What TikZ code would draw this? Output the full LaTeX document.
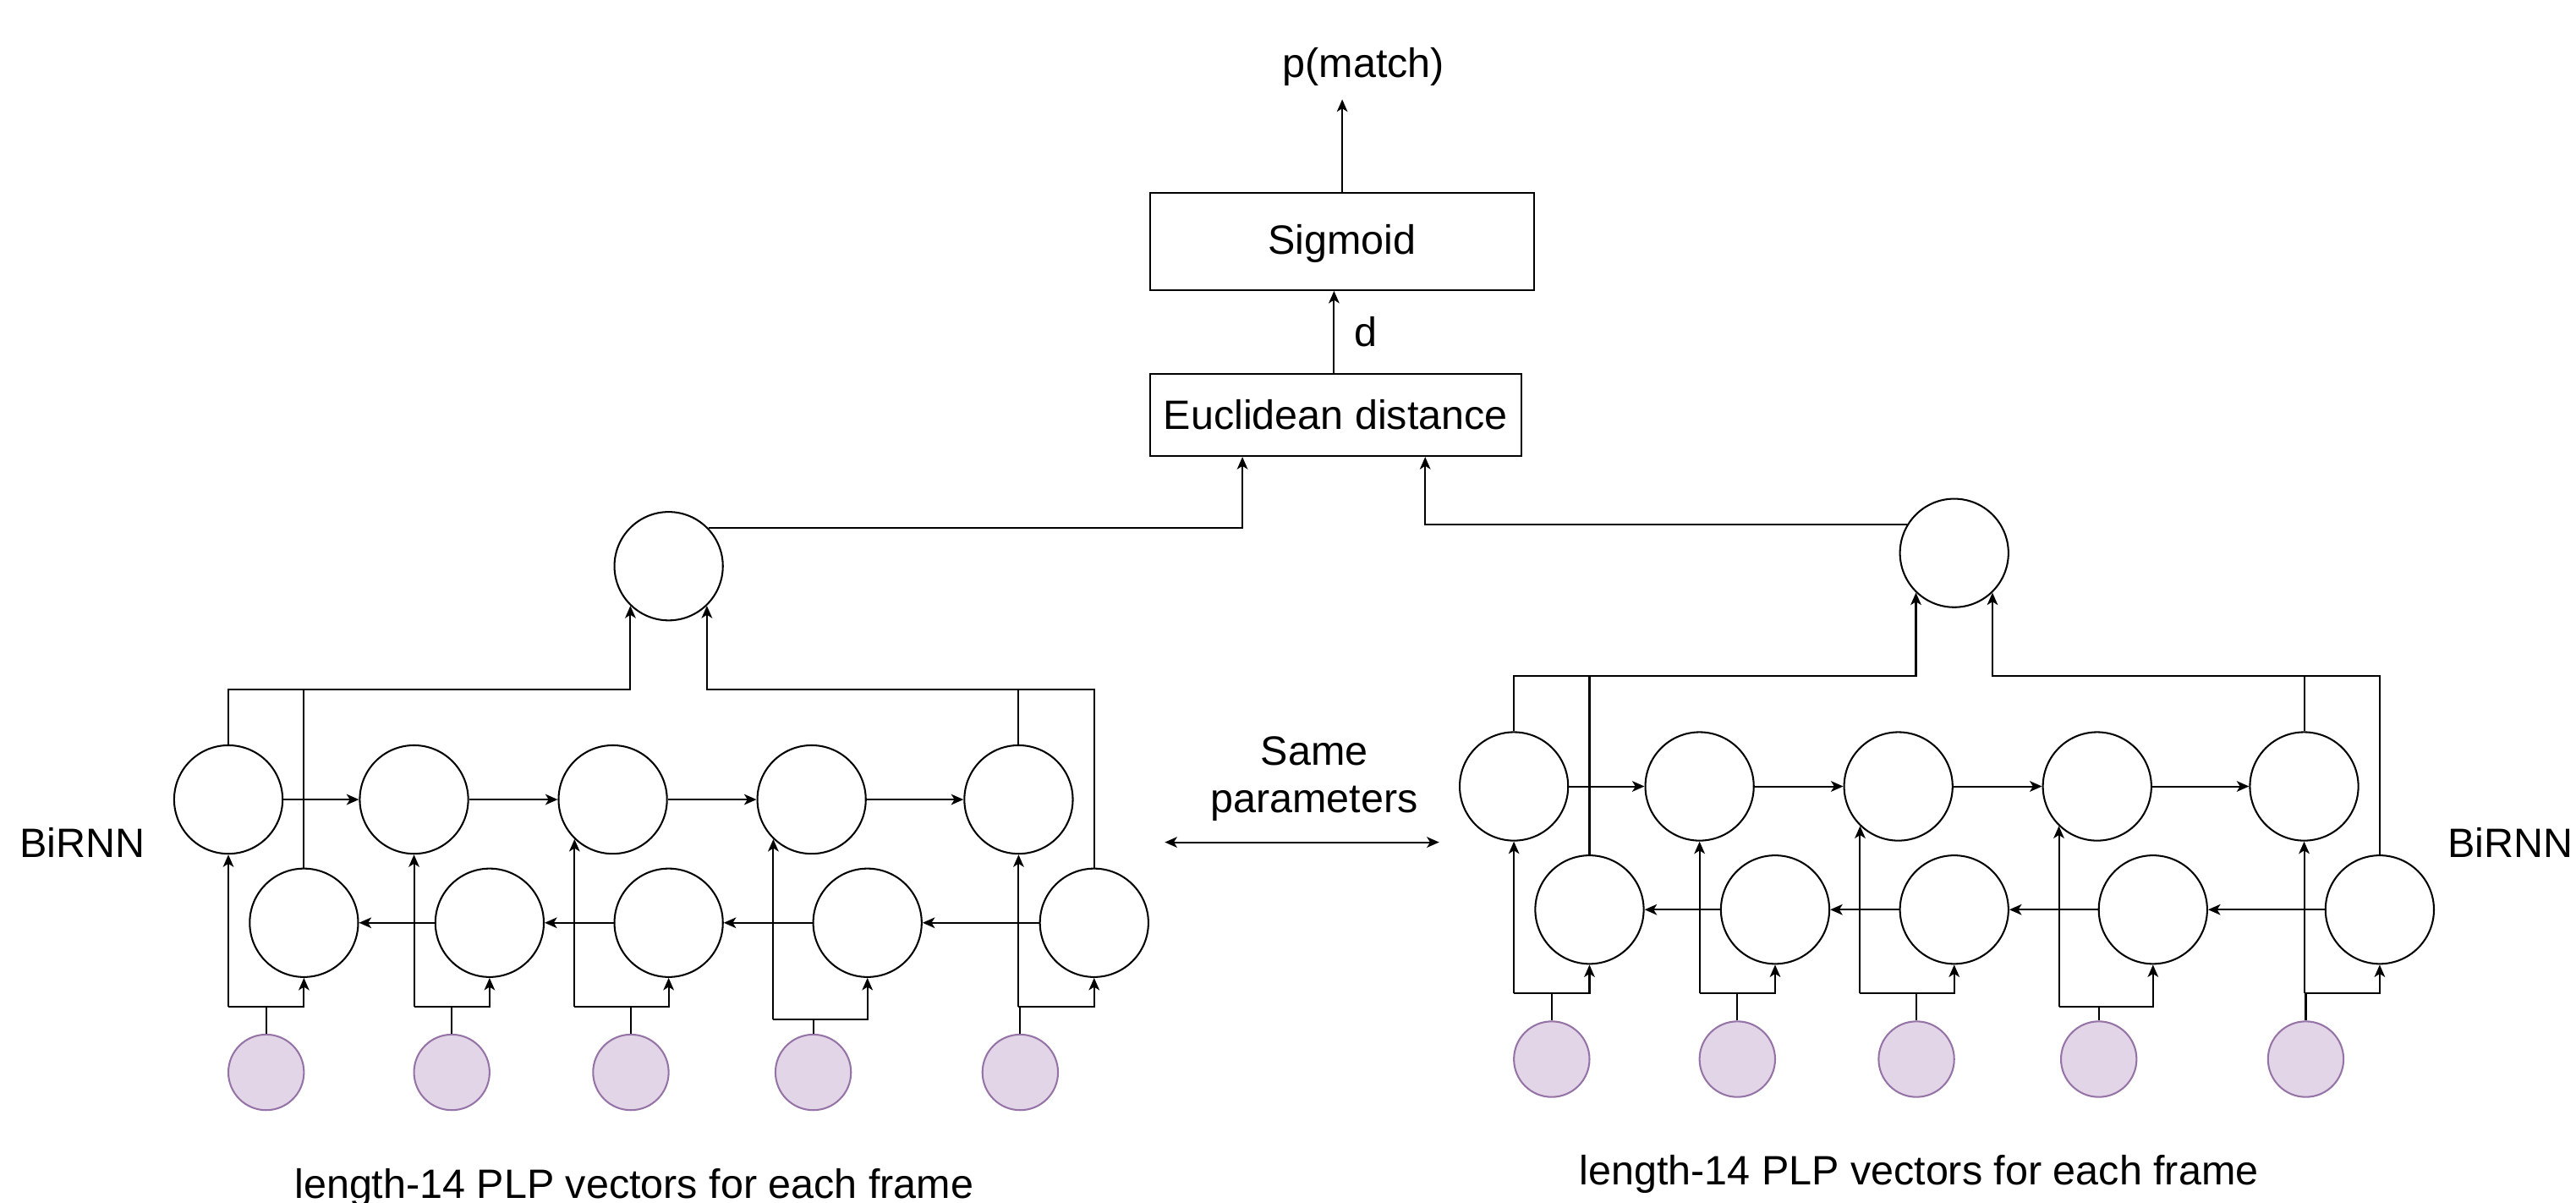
\documentclass[tikz,border=0pt]{standalone}
\usepackage{fontspec}
\setmainfont{Liberation Sans}
\usetikzlibrary{arrows.meta}
\usetikzlibrary{calc}
\usetikzlibrary{positioning}
\definecolor{inpfill}{HTML}{E1D5E7}
\definecolor{inpdraw}{HTML}{9673A6}

\begin{document}
\begin{tikzpicture}[line width=0.6pt, >={Stealth[length=1.5mm, width=1.3mm, inset=0.4mm]},
    every node/.style={font=\fontsize{14.2}{16.5}\selectfont},
    cell/.style={circle, draw, minimum size=1.32cm, inner sep=0pt},
    inp/.style={circle, draw=inpdraw, fill=inpfill, minimum size=0.92cm, inner sep=0pt},
    block/.style={rectangle, draw, inner sep=0pt}]
    \useasboundingbox (0,0) rectangle (31.36,14.63);

    % Head: distance and sigmoid
    \node[block, minimum width=4.52cm, minimum height=1.0cm] (euc) at (16.26, 9.58) {Euclidean distance};
    \node[block, minimum width=4.68cm, minimum height=1.18cm, text depth=0.05cm] (sig) at (16.34, 11.69) {Sigmoid};
    \node (pm) at (16.60, 13.82) {p(match)};
    \coordinate (pmtip) at (16.34, 13.42);
    \draw[->] (sig.north) -- (pmtip);
    \draw[->] (euc.north -| 16.24,0) -- (sig.south -| 16.24,0) node[midway, right=0.12cm] {d};

    % Two BiRNNs with shared weights
    \foreach \s/\dx/\dy in {L/0/0, R/15.65/0.16} {
    \begin{scope}[shift={(\dx,\dy)}]
        \foreach \i/\fx/\bx/\ix/\ang/\bus in {1/2.78/3.70/3.24/270/2.38, 2/5.04/5.96/5.50/270/2.38,
                3/7.46/8.14/7.68/226/2.38, 4/9.88/10.56/9.90/226/2.22, 5/12.40/13.32/12.42/270/2.38} {
            \node[cell] (f\s\i) at (\fx, 4.90) {};
            \node[cell] (b\s\i) at (\bx, 3.40) {};
            \node[inp] (x\s\i) at (\ix, 1.58) {};
            \draw (x\s\i.north) -- (x\s\i.north |- 0,\bus);
            \draw[->] (f\s\i.\ang |- 0,\bus) -| (b\s\i.south);
            \draw[->] (f\s\i.\ang |- 0,\bus) -- (f\s\i.\ang);
        }
        \foreach \i/\j in {1/2, 2/3, 3/4, 4/5} {
            \draw[->] (f\s\i.east) -- (f\s\j.west);
            \draw[->] (b\s\j.west) -- (b\s\i.east);
        }
        % pooled output
        \node[cell] (t\s) at (8.14, 7.74) {};
        \draw[->] (f\s1.north) |- (t\s.226 |- 0,6.24) -- (t\s.226);
        \draw (b\s1.north) -- (b\s1.north |- 0,6.24);
        \draw[->] (b\s5.north) |- (t\s.314 |- 0,6.24) -- (t\s.314);
        \draw (f\s5.north) -- (f\s5.north |- 0,6.24);
    \end{scope}
    }

    \draw[->] (tL.44) -| ($(euc.south west)!0.25!(euc.south east)$);
    \draw[->] (tR.149) -| ($(euc.south west)!0.74!(euc.south east)$);

    % Labels
    \node (birnnL) at (1.00, 4.38) {BiRNN};
    \node (birnnR) at (30.56, 4.38) {BiRNN};
    \node[align=center] (same) at (16.00, 5.15) {Same\\parameters};
    \coordinate (shA) at (14.18, 4.38);
    \coordinate (shB) at (17.52, 4.38);
    \draw[<->] (shA) -- (shB);
    \node[anchor=base] (capL) at (7.72, 0.05) {length-14 PLP vectors for each frame};
    \node[anchor=base] (capR) at (23.36, 0.21) {length-14 PLP vectors for each frame};
\end{tikzpicture}
\end{document}
